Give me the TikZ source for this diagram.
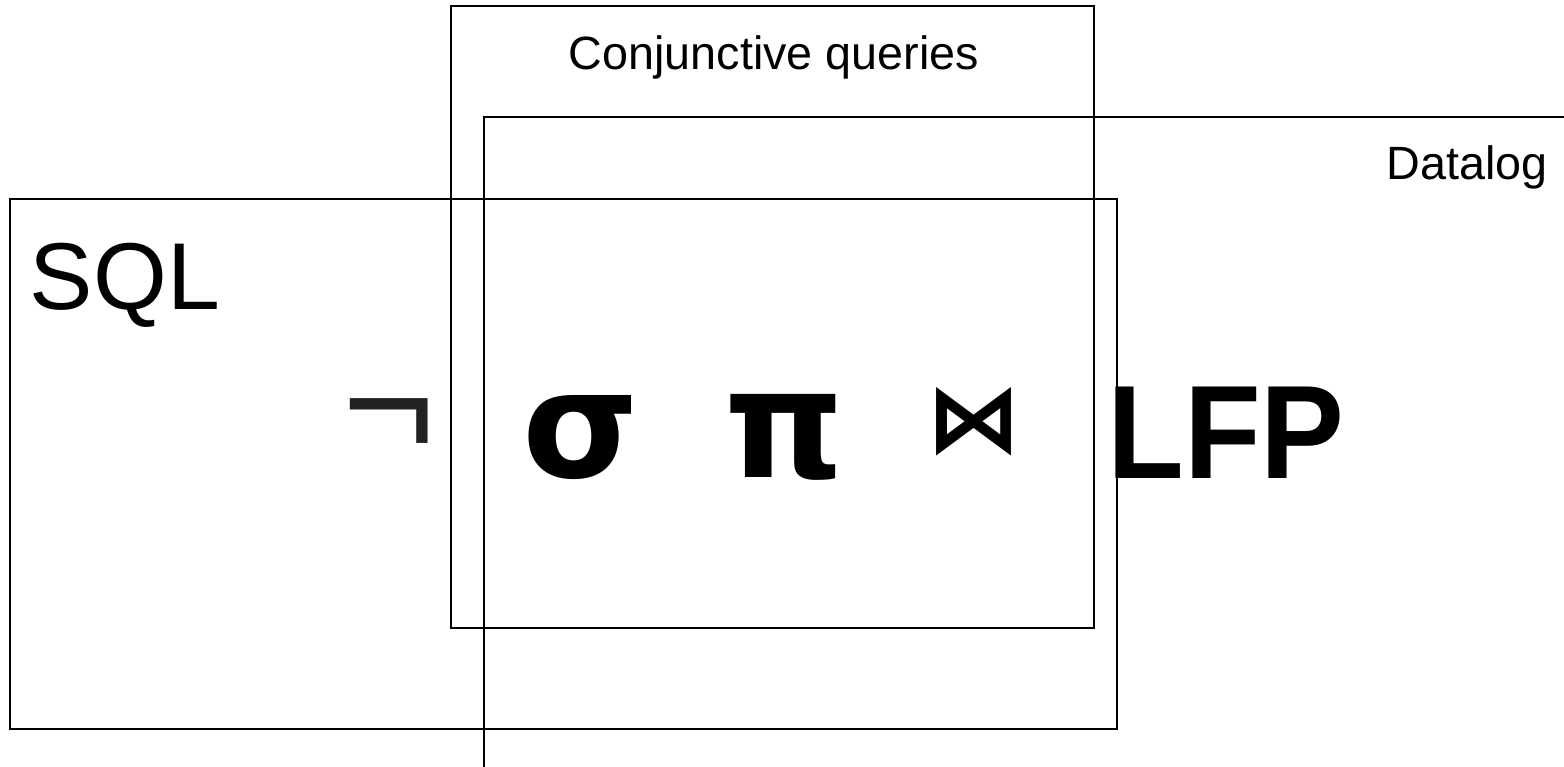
\documentclass[tikz,border=0pt]{standalone}
\usepackage{fontspec}
\setmainfont{Liberation Sans}
\newfontfamily\djv{DejaVu Sans}
\begin{document}
\begin{tikzpicture}[x=1pt,y=-1pt,
  box/.style={draw=black,line width=1.6pt},
  lbl/.style={anchor=base,inner sep=0pt,font=\fontsize{46.7}{56}\selectfont},
  greek/.style={anchor=base,inner sep=0pt,font=\djv\bfseries\fontsize{150}{160}\selectfont}]
\useasboundingbox (0,0) rectangle (1564,767);
% Conjunctive queries box
\draw[box] (451,6) rectangle (1094,628);
% SQL box
\draw[box] (10,199) rectangle (1117,729);
% Datalog box (open to the right and bottom)
\draw[box] (1564,117) -- (484,117) -- (484,767);
\node[lbl] (cq) at (774,70) {Conjunctive queries};
\node[lbl] (dl) at (1467,180) {Datalog};
\node[lbl,font=\fontsize{95}{100}\selectfont] (sql) at (125,310) {SQL};
\node[anchor=base,inner sep=0pt,font=\fontsize{160}{170}\selectfont,text={rgb,255:red,34;green,34;blue,34}] (neg) at (389,457) {¬};
\node[greek] (sigma) at (581,477) {σ};
\node[greek,font=\djv\bfseries\fontsize{152}{160}\selectfont] (pi) at (785,477) {π};
\node[anchor=base,inner sep=0pt,font=\djv\bfseries\fontsize{95}{100}\selectfont] (join) at (974,451) {⋈};
\node[anchor=base,inner sep=0pt,font=\fontsize{133}{140}\selectfont\bfseries] (lfp) at (1226,478) {\scalebox{0.945}[1]{LFP}};
\end{tikzpicture}
\end{document}
